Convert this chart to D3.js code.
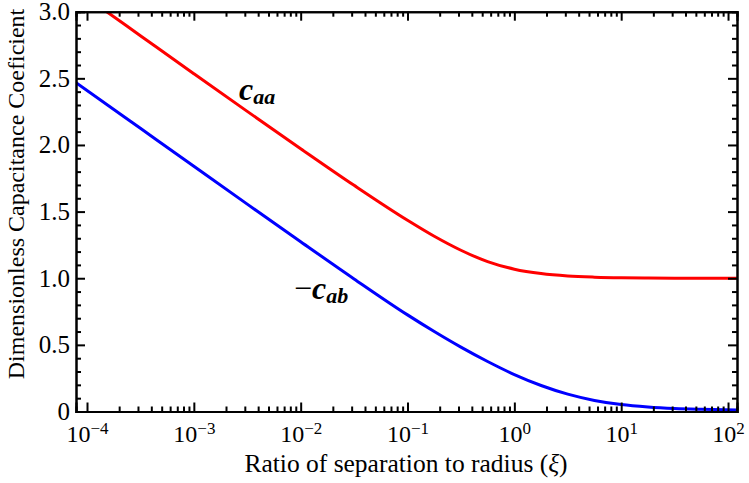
<!DOCTYPE html>
<html>
<head>
<meta charset="utf-8">
<script src="https://cdn.jsdelivr.net/npm/d3@7"></script>
<style>
  body { margin: 0; background: #fff; }
</style>
</head>
<body>
<svg id="chart" width="749" height="483"></svg>
<script>
// values (xi on a log axis)
const xi = [7.9e-5, 3.16e-4, 1e-3, 3.16e-3, 1e-2, 3.16e-2, 0.1, 0.178, 0.316, 0.562, 1, 1.78, 3.16, 5.62, 10, 17.8, 31.6, 56.2, 121];
const caa = [3.163, 2.82, 2.535, 2.252, 1.972, 1.697, 1.435, 1.315, 1.21, 1.125, 1.068, 1.035, 1.017, 1.008, 1.003, 1.001, 1.0, 1.0, 1.0];
const cab = [2.468, 2.125, 1.84, 1.556, 1.274, 0.995, 0.725, 0.6, 0.483, 0.375, 0.277, 0.195, 0.13, 0.083, 0.052, 0.034, 0.023, 0.017, 0.012];

const xMajor = [-4, -3, -2, -1, 0, 1, 2];
const yMajor = [0, 0.5, 1, 1.5, 2, 2.5, 3];

const width = 749;
const height = 483;
const margin = { top: 11.7, right: 12, bottom: 71.5, left: 76 };
const FONT = "'Liberation Serif', 'Times New Roman', Times, serif";

const svg = d3.select('#chart').attr('font-family', FONT);

const x = d3
  .scaleLog()
  .domain([Math.pow(10, -4.103), Math.pow(10, 2.084)])
  .range([margin.left, width - margin.right]);

const y = d3
  .scaleLinear()
  .domain([0, 3])
  .range([height - margin.bottom, margin.top]);

const decades = xMajor.map(e => Math.pow(10, e));
const xMinor = [];
xMajor.slice(0, -1).forEach(e => {
  for (let k = 2; k < 10; k++) xMinor.push(k * Math.pow(10, e));
});
const yMinor = d3.range(0, 31).map(i => i / 10).filter(v => Math.round(v * 10) % 5 !== 0);

const plotW = width - margin.right - margin.left;
const plotH = height - margin.bottom - margin.top;

svg
  .append('clipPath')
  .attr('id', 'clip')
  .append('rect')
  .attr('x', margin.left)
  .attr('y', margin.top)
  .attr('width', plotW)
  .attr('height', plotH);

// curves
const line = d3
  .line()
  .x(d => x(d[0]))
  .y(d => y(d[1]))
  .curve(d3.curveMonotoneX);

const series = [
  { values: caa, color: '#ff0000' },
  { values: cab, color: '#0000ff' }
];

svg
  .append('g')
  .attr('clip-path', 'url(#clip)')
  .selectAll('path')
  .data(series)
  .join('path')
  .attr('d', s => line(xi.map((v, i) => [v, s.values[i]])))
  .attr('fill', 'none')
  .attr('stroke', s => s.color)
  .attr('stroke-width', 3);

// axes, ticks inside, mirrored
const bottom = height - margin.bottom;
const right = width - margin.right;

const styleAxis = g => {
  g.attr('font-family', FONT);
  g.selectAll('.domain').attr('stroke', '#000').attr('stroke-width', 2);
  g.selectAll('.tick line').attr('stroke', '#000').attr('stroke-width', 2);
};

const addAxis = (axis, tx, ty) =>
  svg
    .append('g')
    .attr('transform', `translate(${tx},${ty})`)
    .call(axis)
    .call(styleAxis);

addAxis(d3.axisBottom(x).tickValues(xMinor).tickSize(-5).tickFormat(''), 0, bottom);
addAxis(d3.axisTop(x).tickValues(xMinor).tickSize(-5).tickFormat(''), 0, margin.top);
addAxis(d3.axisTop(x).tickValues(decades).tickSize(-9).tickFormat(''), 0, margin.top);
addAxis(d3.axisLeft(y).tickValues(yMinor).tickSize(-5).tickFormat(''), margin.left, 0);
addAxis(d3.axisRight(y).tickValues(yMinor).tickSize(-5).tickFormat(''), right, 0);
addAxis(d3.axisRight(y).tickValues(yMajor).tickSize(-9).tickFormat(''), right, 0);

const xAxis = addAxis(
  d3.axisBottom(x).tickValues(decades).tickSize(-9).tickPadding(13),
  0,
  bottom
);
xAxis.selectAll('.tick text')
  .attr('font-size', 24)
  .text(null)
  .each(function(d) {
    const t = d3.select(this);
    const e = Math.round(Math.log10(d));
    t.append('tspan').text('10');
    t.append('tspan')
      .attr('dy', '-0.42em')
      .attr('font-size', 17)
      .text(String(e).replace('-', '\u2212'));
  });

const yAxis = addAxis(
  d3.axisLeft(y).tickValues(yMajor).tickSize(-9).tickPadding(6)
    .tickFormat(d => (d === 0 ? '0' : d3.format('.1f')(d))),
  margin.left,
  0
);
yAxis.selectAll('.tick text').attr('font-size', 25);

// axis titles
svg
  .append('text')
  .attr('x', 406)
  .attr('y', 472)
  .attr('text-anchor', 'middle')
  .attr('font-size', 25.5)
  .text('Ratio of separation to radius (')
  .call(t => t.append('tspan').attr('font-style', 'italic').text('\u03be'))
  .call(t => t.append('tspan').text(')'));

svg
  .append('text')
  .attr('transform', 'translate(24,194) rotate(-90)')
  .attr('text-anchor', 'middle')
  .attr('font-size', 24)
  .text('Dimensionless Capacitance Coeficient');

// curve labels
const label = (lx, ly, pre, sub) => {
  const t = svg
    .append('text')
    .attr('x', lx)
    .attr('y', ly)
    .attr('font-size', 32)
    .attr('font-style', 'italic')
    .attr('font-weight', 'bold');
  if (pre) t.append('tspan').attr('font-style', 'normal').attr('font-weight', 'normal').text(pre);
  t.append('tspan').text('c');
  t.append('tspan').attr('font-size', 22).attr('dy', 4).text(sub);
};
label(239, 100, null, 'aa');
label(294, 299, '\u2212', 'ab');
</script>
</body>
</html>
